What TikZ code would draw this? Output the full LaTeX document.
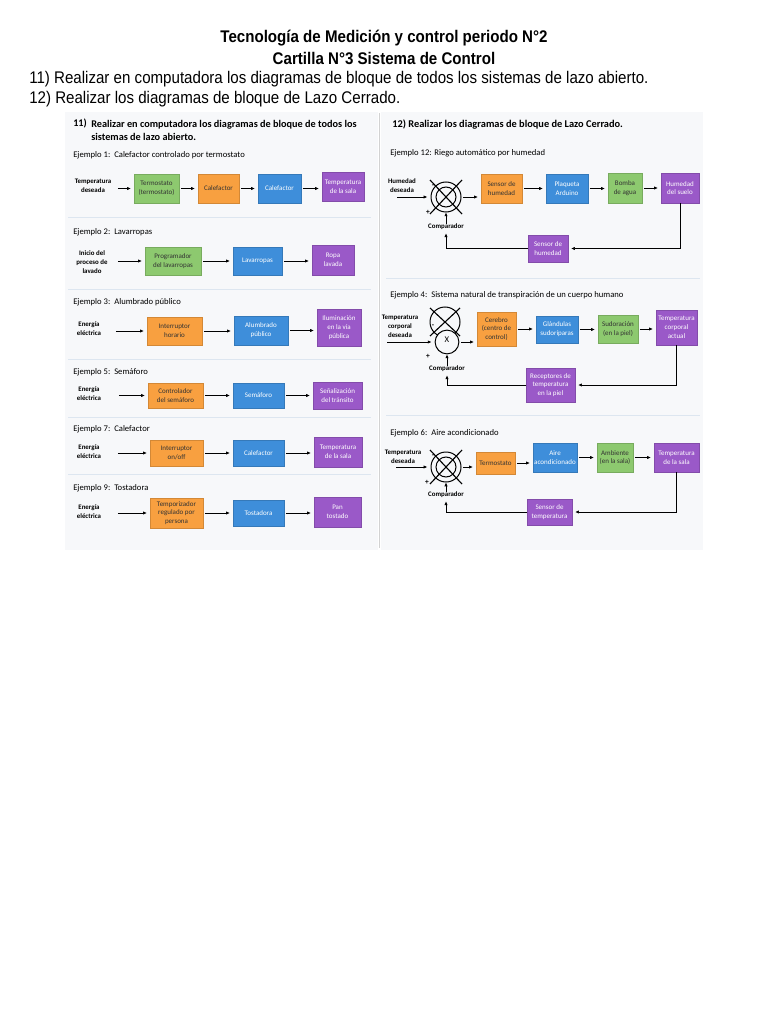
\documentclass[tikz,border=0pt]{standalone}
\usepackage{fontspec}
\setmainfont{Carlito}
\newfontfamily\docfont[FakeStretch=0.895]{Liberation Sans}
\usetikzlibrary{arrows.meta,positioning,calc}
\definecolor{grnCol}{HTML}{8DC96F}
\definecolor{orgCol}{HTML}{F8A040}
\definecolor{bluCol}{HTML}{3E8EDA}
\definecolor{purCol}{HTML}{9A59C8}
\definecolor{txtDark}{HTML}{333333}
\definecolor{panelCol}{HTML}{F7F8FA}
\definecolor{sepCol}{HTML}{DDE6F0}
\newcommand{\boxfont}{\fontsize{5.6}{7}\selectfont}
\newcommand{\inlabel}{\fontsize{5.5}{7.2}\selectfont\bfseries}
\tikzstyle{blk}=[rectangle, inner sep=0pt, outer sep=0pt, align=center, font=\boxfont]
\tikzstyle{grn}=[blk, fill=grnCol, draw=grnCol!85!black, line width=0.3pt, text=txtDark]
\tikzstyle{org}=[blk, fill=orgCol, draw=orgCol!85!black, line width=0.3pt, text=txtDark]
\tikzstyle{blu}=[blk, fill=bluCol, draw=bluCol!85!black, line width=0.3pt, text=white]
\tikzstyle{pur}=[blk, fill=purCol, draw=purCol!85!black, line width=0.3pt, text=white]
\tikzstyle{inp}=[align=center, inner sep=0pt, font=\inlabel]
\tikzstyle{arr}=[-{Latex[length=3pt,width=2.6pt]}, line width=0.5pt, shorten <=1.5pt, shorten >=2.5pt]
\tikzstyle{fb}=[-{Latex[length=3pt,width=2.6pt]}, line width=0.5pt, shorten >=2.5pt]
\tikzstyle{ring}=[circle, draw, line width=0.8pt, inner sep=0pt]
\tikzstyle{cross}=[line width=0.9pt]
\tikzstyle{sep}=[draw=sepCol, line width=0.8pt]
\tikzstyle{ejemplo}=[anchor=west, inner sep=0pt, font=\fontsize{6.9}{8}\selectfont]
\tikzstyle{sign}=[inner sep=0pt, font=\fontsize{6}{6}\selectfont\bfseries]
% block: name, style, x1, y1, x2, y2, text
\newcommand{\blk}[7]{\node[#2, minimum width={(#5-#3)*0.8pt}, minimum height={(#6-#4)*0.8pt}] (#1) at ({(#3+#5)/2},{(#4+#6)/2}) {#7};}
\begin{document}
\begin{tikzpicture}[x=0.8pt, y=-0.8pt]
    \useasboundingbox (0,0) rectangle (768,1024);

    % ==== TITLE ====
    \node[font=\docfont\fontsize{13.5}{15}\selectfont\bfseries] (tit1) at (384,38) {Tecnología de Medición y control periodo N°2};
    \node[font=\docfont\fontsize{13.5}{15}\selectfont\bfseries] (tit2) at (384,58) {Cartilla N°3 Sistema de Control};
    \node[anchor=west, inner sep=0pt, font=\docfont\fontsize{13.5}{15}\selectfont] (ask11) at (29,79) {11) Realizar en computadora los diagramas de bloque de todos los sistemas de lazo abierto.};
    \node[anchor=west, inner sep=0pt, font=\docfont\fontsize{13.5}{15}\selectfont] (ask12) at (29,99) {12) Realizar los diagramas de bloque de Lazo Cerrado.};

    % ==== PANELS ====
    \fill[panelCol] (65,112) rectangle (378,550);
    \fill[panelCol] (381,112) rectangle (703,550);
    \draw[gray!35, line width=1.2pt] (379.5,113) -- (379.5,548);

    % === LEFT PANEL: LAZO ABIERTO ===
    \node[anchor=west, inner sep=0pt, font=\fontsize{8.2}{9}\selectfont\bfseries] (h11n) at (73,123) {11)};
    \node[anchor=north west, inner sep=0pt, align=left, font=\fontsize{8.2}{10.4}\selectfont\bfseries] (h11) at (91,120) {Realizar en computadora los diagramas de bloque de todos los\\sistemas de lazo abierto.};

    % Ejemplo 1
    \node[ejemplo] (e1) at (73,155) {Ejemplo 1:\ \ Calefactor controlado por termostato};
    \node[inp] (in1) at (93,186) {Temperatura\\deseada};
    \blk{b11}{grn}{134}{174}{179}{203}{Termostato\\(termostato)}
    \blk{b12}{org}{198}{174}{239}{203}{Calefactor}
    \blk{b13}{blu}{258}{174}{301}{203}{Calefactor}
    \blk{b14}{pur}{322}{172}{364}{201}{Temperatura\\de la sala}
    \draw[arr] (in1.center |- b11.west) ++(23,0) -- (b11.west);
    \draw[arr] (b11.east) -- (b11.east -| b12.west);
    \draw[arr] (b12.east) -- (b12.east -| b13.west);
    \draw[arr] (b13.east) -- (b13.east -| b14.west);
    \draw[sep] (68,218) -- (371,218);

    % Ejemplo 2
    \node[ejemplo] (e2) at (73,232) {Ejemplo 2:\ \ Lavarropas};
    \node[inp] (in2) at (92,262) {Inicio del\\proceso de\\lavado};
    \blk{b21}{grn}{145}{247}{201}{275}{Programador\\del lavarropas}
    \blk{b22}{blu}{233}{247}{282}{275}{Lavarropas}
    \blk{b23}{pur}{312}{245}{354}{275}{Ropa\\lavada}
    \draw[arr] (in2.center |- b21.west) ++(24,0) -- (b21.west);
    \draw[arr] (b21.east) -- (b21.east -| b22.west);
    \draw[arr] (b22.east) -- (b22.east -| b23.west);
    \draw[sep] (68,289) -- (371,289);

    % Ejemplo 3
    \node[ejemplo] (e3) at (73,302) {Ejemplo 3:\ \ Alumbrado público};
    \node[inp] (in3) at (89,329) {Energía\\eléctrica};
    \blk{b31}{org}{147}{317}{202}{345}{Interruptor\\horario}
    \blk{b32}{blu}{234}{316}{288}{345}{Alumbrado\\público}
    \blk{b33}{pur}{317}{309}{361}{346}{Iluminación\\en la vía\\pública}
    \draw[arr] (in3.center |- b31.west) ++(25,0) -- (b31.west);
    \draw[arr] (b31.east) -- (b31.east -| b32.west);
    \draw[arr] (b32.east) -- (b32.east -| b33.west);
    \draw[sep] (68,359) -- (371,359);

    % Ejemplo 5
    \node[ejemplo] (e5) at (73,372) {Ejemplo 5:\ \ Semáforo};
    \node[inp] (in5) at (89,394) {Energía\\eléctrica};
    \blk{b51}{org}{148}{383}{203}{408}{Controlador\\del semáforo}
    \blk{b52}{blu}{233}{383}{284}{408}{Semáforo}
    \blk{b53}{pur}{313}{382}{362}{409}{Señalización\\del tránsito}
    \draw[arr] (in5.center |- b51.west) ++(28,0) -- (b51.west);
    \draw[arr] (b51.east) -- (b51.east -| b52.west);
    \draw[arr] (b52.east) -- (b52.east -| b53.west);
    \draw[sep] (68,417) -- (371,417);

    % Ejemplo 7
    \node[ejemplo] (e7) at (73,429) {Ejemplo 7:\ \ Calefactor};
    \node[inp] (in7) at (89,452) {Energía\\eléctrica};
    \blk{b71}{org}{150}{440}{203}{466}{Interruptor\\on/off}
    \blk{b72}{blu}{233}{440}{284}{466}{Calefactor}
    \blk{b73}{pur}{314}{437}{362}{467}{Temperatura\\de la sala}
    \draw[arr] (in7.center |- b71.west) ++(27,0) -- (b71.west);
    \draw[arr] (b71.east) -- (b71.east -| b72.west);
    \draw[arr] (b72.east) -- (b72.east -| b73.west);
    \draw[sep] (68,474) -- (371,474);

    % Ejemplo 9
    \node[ejemplo] (e9) at (73,488) {Ejemplo 9:\ \ Tostadora};
    \node[inp] (in9) at (89,512) {Energía\\eléctrica};
    \blk{b91}{org}{150}{498}{203}{528}{Temporizador\\regulado por\\persona}
    \blk{b92}{blu}{233}{500}{284}{526}{Tostadora}
    \blk{b93}{pur}{314}{497}{361}{527}{Pan\\tostado}
    \draw[arr] (in9.center |- b91.west) ++(27,0) -- (b91.west);
    \draw[arr] (b91.east) -- (b91.east -| b92.west);
    \draw[arr] (b92.east) -- (b92.east -| b93.west);

    % === RIGHT PANEL: LAZO CERRADO ===
    \node[anchor=west, inner sep=0pt, font=\fontsize{8.3}{9}\selectfont\bfseries] (h12) at (392,125) {12) Realizar los diagramas de bloque de Lazo Cerrado.};

    % Ejemplo 12
    \node[ejemplo] (e12) at (390,153) {Ejemplo 12: Riego automático por humedad};
    \node[inp] (in12) at (402,186) {Humedad\\deseada};
    \coordinate (s12) at (397,197);
    \node[ring, minimum size=24pt] (cmp12) at (446,197) {};
    \node[ring, minimum size=16pt] (cmp12i) at (cmp12) {};
    \draw[cross] ([shift={(-16,-17)}]cmp12.center) -- ([shift={(16,17)}]cmp12.center);
    \draw[cross] ([shift={(16,-17)}]cmp12.center) -- ([shift={(-16,17)}]cmp12.center);
    \node[sign] (p12) at (428,212) {+};
    \node[sign] (m12) at (433,186) {-};
    \node[inp] (lbl12) at (446,227) {Comparador};
    \blk{b121}{org}{481}{174}{522}{203}{Sensor de\\humedad}
    \blk{b122}{blu}{546}{174}{588}{203}{Plaqueta\\Arduino}
    \blk{b123}{grn}{608}{173}{642}{203}{Bomba\\de agua}
    \blk{b124}{pur}{661}{173}{699}{203}{Humedad\\del suelo}
    \blk{f12}{pur}{528}{235}{568}{262}{Sensor de\\humedad}
    \draw[fb] (s12) -- (cmp12.west);
    \draw[arr] (cmp12.east) -- (cmp12.east -| b121.west);
    \draw[arr] (b121.east) -- (b121.east -| b122.west);
    \draw[arr] (b122.east) -- (b122.east -| b123.west);
    \draw[arr] (b123.east) -- (b123.east -| b124.west);
    \draw[fb] (b124.south) |- (f12.east);
    \draw[fb] (f12.west) -| (lbl12.south);
    \draw[fb, shorten >=0pt] (lbl12.north) -- (cmp12.south);
    \draw[sep] (386,278) -- (700,278);

    % Ejemplo 4
    \node[ejemplo] (e4) at (390,295) {Ejemplo 4:\ \ Sistema natural de transpiración de un cuerpo humano};
    \node[inp] (in4) at (400,326) {Temperatura\\corporal\\deseada};
    \coordinate (s4) at (387,342);
    \node[ring, minimum size=24pt] (cmp4u) at (445,322) {};
    \draw[cross] ([shift={(-15,-14)}]cmp4u.center) -- ([shift={(15,14)}]cmp4u.center);
    \draw[cross] ([shift={(15,-14)}]cmp4u.center) -- ([shift={(-15,14)}]cmp4u.center);
    \node[ring, minimum size=19pt, fill=panelCol] (cmp4) at (447,342) {};
    \node[inner sep=0pt, font=\fontsize{7}{7}\selectfont] (x4) at (447,340) {X};
    \node[sign] (p4) at (428,356) {+};
    \node[sign] (m4) at (433,326) {-};
    \node[inp] (lbl4) at (447,369) {Comparador};
    \blk{b41}{org}{477}{312}{516}{346}{Cerebro\\(centro de\\control)}
    \blk{b42}{blu}{536}{316}{578}{343}{Glándulas\\sudoríparas}
    \blk{b43}{grn}{598}{315}{638}{343}{Sudoración\\(en la piel)}
    \blk{b44}{pur}{656}{310}{697}{345}{Temperatura\\corporal\\actual}
    \blk{f4}{pur}{526}{368}{575}{402}{Receptores de\\temperatura\\en la piel}
    \draw[fb] (s4) -- (cmp4.west);
    \draw[arr] (cmp4.east) -- (cmp4.east -| b41.west);
    \draw[arr] (b41.east) -- (b41.east -| b42.west);
    \draw[arr] (b42.east) -- (b42.east -| b43.west);
    \draw[arr] (b43.east) -- (b43.east -| b44.west);
    \draw[fb] (b44.south) |- (f4.east);
    \draw[fb] (f4.west) -| (lbl4.south);
    \draw[fb, shorten >=0pt] (lbl4.north) -- (cmp4.south);
    \draw[sep] (386,415) -- (700,415);

    % Ejemplo 6
    \node[ejemplo] (e6) at (390,433) {Ejemplo 6:\ \ Aire acondicionado};
    \node[inp] (in6) at (403,457) {Temperatura\\deseada};
    \coordinate (s6) at (396,467);
    \node[ring, minimum size=24pt] (cmp6) at (446,467) {};
    \node[ring, minimum size=16pt] (cmp6i) at (cmp6) {};
    \draw[cross] ([shift={(-16,-17)}]cmp6.center) -- ([shift={(16,17)}]cmp6.center);
    \draw[cross] ([shift={(16,-17)}]cmp6.center) -- ([shift={(-16,17)}]cmp6.center);
    \node[sign] (p6) at (427,482) {+};
    \node[sign] (m6) at (433,456) {-};
    \node[inp] (lbl6) at (446,495) {Comparador};
    \blk{b61}{org}{476}{452}{515}{474}{Termostato}
    \blk{b62}{blu}{533}{443}{577}{472}{Aire\\acondicionado}
    \blk{b63}{grn}{597}{443}{633}{472}{Ambiente\\(en la sala)}
    \blk{b64}{pur}{654}{443}{699}{472}{Temperatura\\de la sala}
    \blk{f6}{pur}{527}{499}{572}{525}{Sensor de\\temperatura}
    \draw[fb] (s6) -- (cmp6.west);
    \draw[arr] (cmp6.east) -- (cmp6.east -| b61.west);
    \draw[arr] (b61.east) -- (b61.east -| b62.west);
    \draw[arr] (b62.east) -- (b62.east -| b63.west);
    \draw[arr] (b63.east) -- (b63.east -| b64.west);
    \draw[fb] (b64.south) |- (f6.east);
    \draw[fb] (f6.west) -| (lbl6.south);
    \draw[fb, shorten >=0pt] (lbl6.north) -- (cmp6.south);

\end{tikzpicture}
\end{document}
